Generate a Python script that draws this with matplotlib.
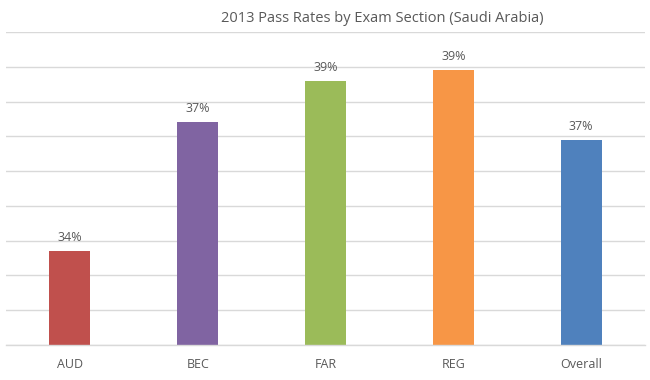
import matplotlib.pyplot as plt

# exam sections and 2013 pass rates (%)
sections = ["AUD", "BEC", "FAR", "REG", "Overall"]
pass_rates = [33.7, 37.4, 38.6, 38.9, 36.9]
bar_colors = ["#C0504D", "#8064A2", "#9BBB59", "#F79646", "#4F81BD"]

plt.rcParams['font.family'] = ['Open Sans', 'DejaVu Sans']
text_col = "#595959"

fig = plt.figure(figsize=(6.5, 3.8), dpi=100)
ax = fig.add_axes([6/650, 35/380, 639/650, 313/380])

x = range(len(sections))
bars = ax.bar(x, pass_rates, width=0.32, color=bar_colors, zorder=3)

for b, v in zip(bars, pass_rates):
    ax.annotate(f"{v:.0f}%", (b.get_x() + b.get_width()/2, v),
                xytext=(0, 5), textcoords="offset points",
                ha="center", va="bottom", fontsize=9, color=text_col)

ax.set_xlim(-0.5, len(sections) - 0.5)
ax.set_ylim(31, 40)
ax.set_yticks(range(31, 41))
ax.yaxis.grid(True, color="#D9D9D9", linewidth=1, zorder=0)
ax.axhline(31, color="#D9D9D9", linewidth=1, clip_on=False, zorder=4)
ax.tick_params(axis="y", left=False, labelleft=False)
ax.tick_params(axis="x", length=0, pad=9, labelsize=9, labelcolor=text_col)
ax.set_xticks(list(x))
ax.set_xticklabels(sections)
for s in ax.spines.values():
    s.set_visible(False)

fig.text(382/650, 1 - 18/380, "2013 Pass Rates by Exam Section (Saudi Arabia)",
         ha="center", va="center", fontsize=10.5, color=text_col)

fig.savefig("out.png", dpi=100)
